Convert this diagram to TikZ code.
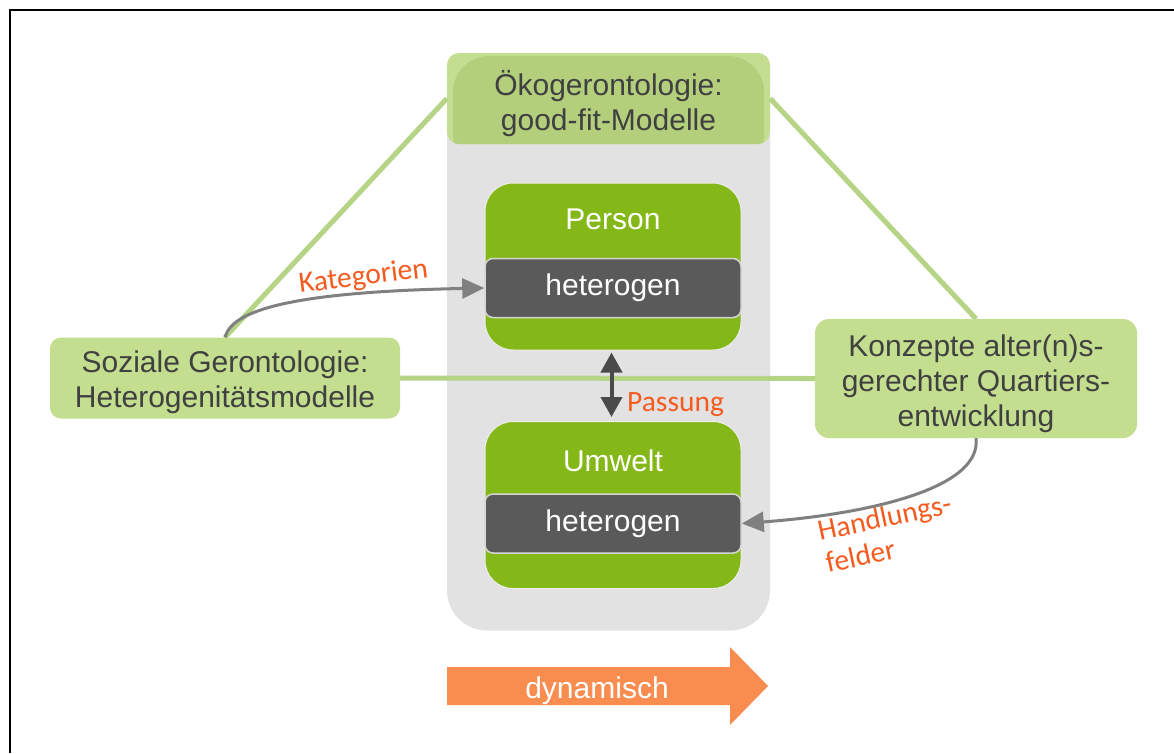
\documentclass[tikz,border=0pt]{standalone}
\usepackage{fontspec}
\setmainfont{Liberation Sans}
\newfontfamily\labelfont{Carlito}
\usetikzlibrary{arrows.meta}

\definecolor{panelgray}{HTML}{E2E2E2}
\definecolor{headerrim}{HTML}{C3DE91}
\definecolor{headergreen}{HTML}{B3CF7C}
\definecolor{lightgreen}{HTML}{C3DE8F}
\definecolor{linkgreen}{HTML}{B5D486}
\definecolor{vividgreen}{HTML}{84B818}
\definecolor{bardark}{HTML}{5A5A5A}
\definecolor{barrim}{HTML}{D5D5D5}
\definecolor{rimgray}{HTML}{EDEDED}
\definecolor{textdark}{HTML}{404040}
\definecolor{fitdark}{HTML}{4A4A4A}
\definecolor{arrowgray}{HTML}{808080}
\definecolor{labelorange}{HTML}{F55B1F}
\definecolor{dynorange}{HTML}{F98C4F}

\pgfdeclarelayer{back}
\pgfdeclarelayer{mid}
\pgfsetlayers{back,mid,main}

\begin{document}
\begin{tikzpicture}[x=1pt,y=-1pt,
  mainsize/.style={font=\fontsize{30}{35}\selectfont},
  sidebox/.style={fill=lightgreen, rounded corners=11pt, inner sep=0pt},
  boxtext/.style={text=textdark, align=center, inner sep=0pt, mainsize},
  bgpanel/.style={fill=panelgray, rounded corners=40pt, inner sep=0pt},
  factorbox/.style={fill=vividgreen, draw=rimgray, line width=1pt, rounded corners=28pt, inner sep=0pt, minimum width=256pt, minimum height=167pt},
  hetbar/.style={fill=bardark, draw=barrim, line width=1.5pt, rounded corners=8pt, text=white, inner sep=0pt, minimum width=256pt, minimum height=59pt, mainsize},
  factortitle/.style={text=white, inner sep=0pt, anchor=base, mainsize},
  linkline/.style={draw=linkgreen, line width=5pt},
  curvearrow/.style={draw=arrowgray, line width=3pt, -{Triangle[width=20pt,length=22pt]}},
  fitarrow/.style={draw=fitdark, line width=4pt, {Triangle[width=21pt,length=20pt]}-{Triangle[width=21pt,length=20pt]}},
  orangelabel/.style={text=labelorange, font=\labelfont\fontsize{29.5}{34}\selectfont, inner sep=0pt, anchor=base west},
]
\useasboundingbox (0,0) rectangle (1174,753);

% central panel with its header
\begin{pgfonlayer}{back}
  \fill[white] (0,0) rectangle (1174,753);
  \node[bgpanel, minimum width=323pt, minimum height=577pt] (panel) at (608.5,342) {};
  \node[fill=headerrim, rounded corners=12pt, inner sep=0pt, minimum width=323pt, minimum height=91pt] (header) at (608.5,98.5) {};
  \begin{scope}
    \clip[rounded corners=12pt] (447,53) rectangle (770,144);
    \fill[headergreen, rounded corners=36pt] (453,170) rectangle (764,56);
  \end{scope}
\end{pgfonlayer}
\node[boxtext, yshift=-5pt] (headertext) at (header) {Ökogerontologie:\\good-fit-Modelle};

% outer frame
\draw[line width=2pt] (10,753) -- (10,10) -- (1174,10);

% side boxes
\node[sidebox, minimum width=350pt, minimum height=81pt] (sozial) at (225,378) {};
\node[boxtext, yshift=-4pt] (sozialtext) at (sozial) {Soziale Gerontologie:\\Heterogenitätsmodelle};
\node[sidebox, rounded corners=14pt, minimum width=322pt, minimum height=119pt] (konzepte) at (976,378.5) {};
\node[boxtext, yshift=-5pt] (konzeptetext) at (konzepte) {Konzepte alter(n)s-\\gerechter Quartiers-\\entwicklung};

% green links between the three fields
\begin{pgfonlayer}{mid}
  \draw[linkline] (sozial.north) -- (header.west);
  \draw[linkline] (header.east) -- (konzepte.north);
  \draw[linkline] (sozial.east) -- (konzepte.west);
\end{pgfonlayer}

% person and environment
\node[factorbox] (person) at (613,266.5) {};
\node[factortitle] (persontitle) at (613,229) {Person};
\node[hetbar] (hetP) at (613,288) {\raisebox{-2.5pt}{heterogen}};

\node[factorbox] (umwelt) at (613,505) {};
\node[factortitle] (umwelttitle) at (613,471) {Umwelt};
\node[hetbar] (hetU) at (613,523.5) {\raisebox{-2.5pt}{heterogen}};

% fit between person and environment
\draw[fitarrow, shorten <=2pt, shorten >=4pt] ([xshift=-1.5pt]person.south) -- ([xshift=-1.5pt]umwelt.north);
\node[orangelabel] (passung) at (627,411) {Passung};

% curved arrows
\draw[curvearrow] (sozial.north) .. controls (232,310) and (292,292) .. (hetP.west);
\node[orangelabel, rotate=7] (kategorien) at (300,293) {Kategorien};

\draw[curvearrow] (konzepte.south) .. controls (982,488) and (870,514) .. (hetU.east);
\node[orangelabel, rotate=12] (handlungs) at (820,541) {Handlungs-};
\node[orangelabel, rotate=12] (felder) at (828,573) {felder};

% dynamic arrow
\fill[dynorange] (447,667) -- (730,667) -- (730,647) -- (768,686) -- (730,725) -- (730,705) -- (447,705) -- cycle;
\node[text=white, inner sep=0pt, anchor=base, mainsize] (dynamisch) at (597,698) {dynamisch};
\end{tikzpicture}
\end{document}
